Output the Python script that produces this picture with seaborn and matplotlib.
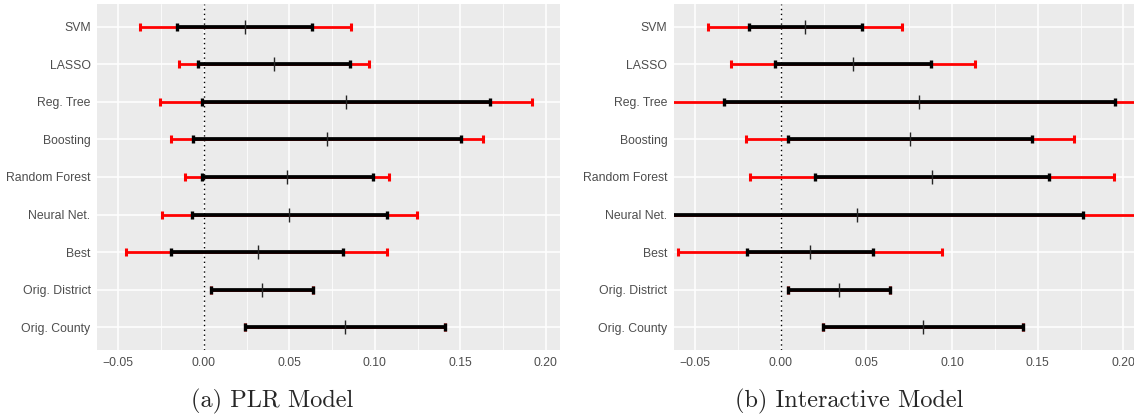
import matplotlib
matplotlib.use("Agg")
import matplotlib.pyplot as plt
import seaborn as sns
import numpy as np
from matplotlib.ticker import MultipleLocator, FuncFormatter

methods = ["SVM", "LASSO", "Reg. Tree", "Boosting", "Random Forest",
           "Neural Net.", "Best", "Orig. District", "Orig. County"]

# (a) PLR model: point estimate, inner (black) and outer (red) intervals
plr_mid = [0.0240, 0.0408, 0.0831, 0.0722, 0.0489, 0.0500, 0.0314, 0.0340, 0.0827]
plr_lo = [-0.0154, -0.0036, -0.0011, -0.0064, -0.0011, -0.0070, -0.0194, 0.0041, 0.0243]
plr_hi = [0.0632, 0.0852, 0.1676, 0.1506, 0.0987, 0.1070, 0.0816, 0.0639, 0.1412]
plr_adj_lo = [-0.0375, -0.0145, -0.0256, -0.0194, -0.0109, -0.0247, -0.0452, 0.0041, 0.0243]
plr_adj_hi = [0.0859, 0.0963, 0.1920, 0.1634, 0.1083, 0.1247, 0.1074, 0.0639, 0.1412]

# (b) Interactive model
irm_mid = [0.0144, 0.0419, 0.0808, 0.0755, 0.0882, 0.0442, 0.0171, 0.0340, 0.0831]
irm_lo = [-0.0184, -0.0034, -0.0334, 0.0044, 0.0199, -0.0879, -0.0199, 0.0044, 0.0245]
irm_hi = [0.0471, 0.0875, 0.1949, 0.1467, 0.1567, 0.1763, 0.0537, 0.0636, 0.1414]
irm_adj_lo = [-0.0425, -0.0290, -0.0980, -0.0203, -0.0182, -0.1625, -0.0600, 0.0044, 0.0245]
irm_adj_hi = [0.0710, 0.1131, 0.2590, 0.1712, 0.1943, 0.2509, 0.0941, 0.0636, 0.1414]

sns.set_theme(style="darkgrid", rc={
    "axes.facecolor": "#EBEBEB",
    "grid.color": "white",
    "axes.edgecolor": "#EBEBEB",
    "xtick.color": "#333333",
    "ytick.color": "#333333",
    "xtick.labelcolor": "#4D4D4D",
    "ytick.labelcolor": "#4D4D4D",
})
plt.rcParams["font.family"] = ["Liberation Sans", "DejaVu Sans"]


def fmt_tick(v, pos):
    return f"{v:.2f}".replace("-", "\u2212")


def draw_panel(ax, mid, lo, hi, adj_lo, adj_hi):
    y = np.arange(len(methods))
    mid = np.array(mid)
    ax.axvline(0, color="black", linestyle=(0, (1, 2.5)), lw=1.0, zorder=2)
    ax.errorbar(mid, y, xerr=[mid - np.array(adj_lo), np.array(adj_hi) - mid],
                fmt="none", ecolor="red", elinewidth=2.0, capsize=3, capthick=2.2,
                zorder=3)
    ax.errorbar(mid, y, xerr=[mid - np.array(lo), np.array(hi) - mid],
                fmt="none", ecolor="black", elinewidth=2.7, capsize=3, capthick=2.4,
                zorder=4)
    sns.scatterplot(x=mid, y=y, marker="|", s=100, color="#262626",
                    linewidth=1.0, ax=ax, zorder=5, legend=False)
    ax.set_xlim(-0.0622, 0.2083)
    ax.set_ylim(len(methods) - 0.4, -0.6)
    ax.set_yticks(y)
    ax.set_yticklabels(methods)
    ax.xaxis.set_major_locator(MultipleLocator(0.05))
    ax.xaxis.set_minor_locator(MultipleLocator(0.025))
    ax.xaxis.set_major_formatter(FuncFormatter(fmt_tick))
    ax.grid(which="major", color="white", lw=1.1)
    ax.grid(which="minor", axis="x", color="white", lw=0.55)
    ax.tick_params(which="major", length=2.75, width=0.8, pad=2.2, labelsize=8.8)
    ax.tick_params(which="minor", length=0)
    ax.set_xlabel("")
    ax.set_ylabel("")
    for s in ax.spines.values():
        s.set_visible(False)


fig = plt.figure(figsize=(11.34, 4.16), dpi=100)
ax1 = fig.add_axes([0.0859, 0.1587, 0.408, 0.8317])
ax2 = fig.add_axes([0.5946, 0.1587, 0.4086, 0.8317])

draw_panel(ax1, plr_mid, plr_lo, plr_hi, plr_adj_lo, plr_adj_hi)
draw_panel(ax2, irm_mid, irm_lo, irm_hi, irm_adj_lo, irm_adj_hi)

fig.text(272 / 1134, 1 - 401.7 / 416, "(a) PLR Model", ha="center", va="center",
         fontfamily="cmr10", fontsize=17.5)
fig.text(849 / 1134, 1 - 401.7 / 416, "(b) Interactive Model", ha="center", va="center",
         fontfamily="cmr10", fontsize=17.5)

fig.savefig("out.png", dpi=100)
